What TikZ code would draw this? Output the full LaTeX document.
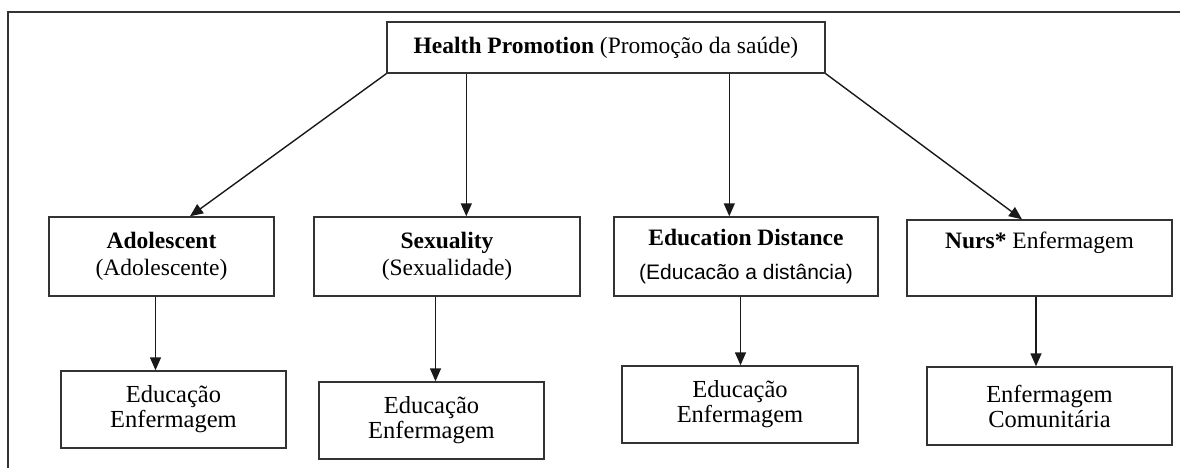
\documentclass[tikz,border=0pt]{standalone}
\usepackage{fontspec}
\setmainfont{Liberation Serif}
\newfontfamily\arialf{Liberation Sans}
\usetikzlibrary{arrows.meta}
\begin{document}
\begin{tikzpicture}[x=1pt,y=-1pt,
  box/.style={draw=black!80, line width=1.4pt, rectangle, inner sep=0pt, align=center,
    font=\fontsize{23.5}{27}\selectfont},
  lowbox/.style={box, font=\fontsize{24.5}{25}\selectfont},
  arr/.style={draw=black!90, line width=1.4pt, -{Triangle[length=13pt,width=11pt]}},
  frame/.style={draw=black!80, line width=1.4pt}]
\useasboundingbox (0,0) rectangle (1180,468);
\draw[frame] (8,468) -- (8,12) -- (1180,12);

\node[box, minimum width=438pt, minimum height=51pt] (top) at (606,47.5)
  {\textbf{Health Promotion} (Promoção da saúde)};

\node[box, minimum width=225pt, minimum height=79pt] (adol) at (161.5,256.5)
  {\textbf{Adolescent}\\(Adolescente)};
\node[box, minimum width=266pt, minimum height=79pt] (sex) at (447,256.5)
  {\textbf{Sexuality}\\(Sexualidade)};
\node[box, minimum width=264pt, minimum height=79pt] (edd) at (746,256.5)
  {\textbf{Education Distance}\\[7pt]{\arialf\fontsize{21}{25}\selectfont (Educacão a distância)}};
\node[box, minimum width=265pt, minimum height=76pt] (nurs) at (1039.5,258)
  {\textbf{Nurs*} Enfermagem\\\strut};

\node[lowbox, minimum width=225pt, minimum height=77pt] (edu1) at (173.5,409.5)
  {Educação\\Enfermagem};
\node[lowbox, minimum width=225pt, minimum height=77pt] (edu2) at (431.5,420.5)
  {Educação\\Enfermagem};
\node[lowbox, minimum width=236pt, minimum height=77pt] (edu3) at (740,404.5)
  {Educação\\Enfermagem};
\node[lowbox, minimum width=245pt, minimum height=78pt] (com) at (1049.5,406)
  {Enfermagem\\Comunitária};

\draw[arr] (top.south west) -- ([xshift=28.5pt]adol.north);
\draw[arr] ([xshift=80pt]top.south west) coordinate (s1) -- (s1 |- sex.north);
\draw[arr] ([xshift=343pt]top.south west) coordinate (s2) -- (s2 |- edd.north);
\draw[arr] (top.south east) -- ([xshift=-17.5pt]nurs.north);

\draw[arr] ([xshift=-6pt]adol.south) coordinate (c1) -- (c1 |- edu1.north);
\draw[arr] ([xshift=-11.5pt]sex.south) coordinate (c2) -- (c2 |- edu2.north);
\draw[arr] ([xshift=-5.5pt]edd.south) coordinate (c3) -- (c3 |- edu3.north);
\draw[arr] ([xshift=-3.5pt]nurs.south) coordinate (c4) -- (c4 |- com.north);
\end{tikzpicture}
\end{document}
